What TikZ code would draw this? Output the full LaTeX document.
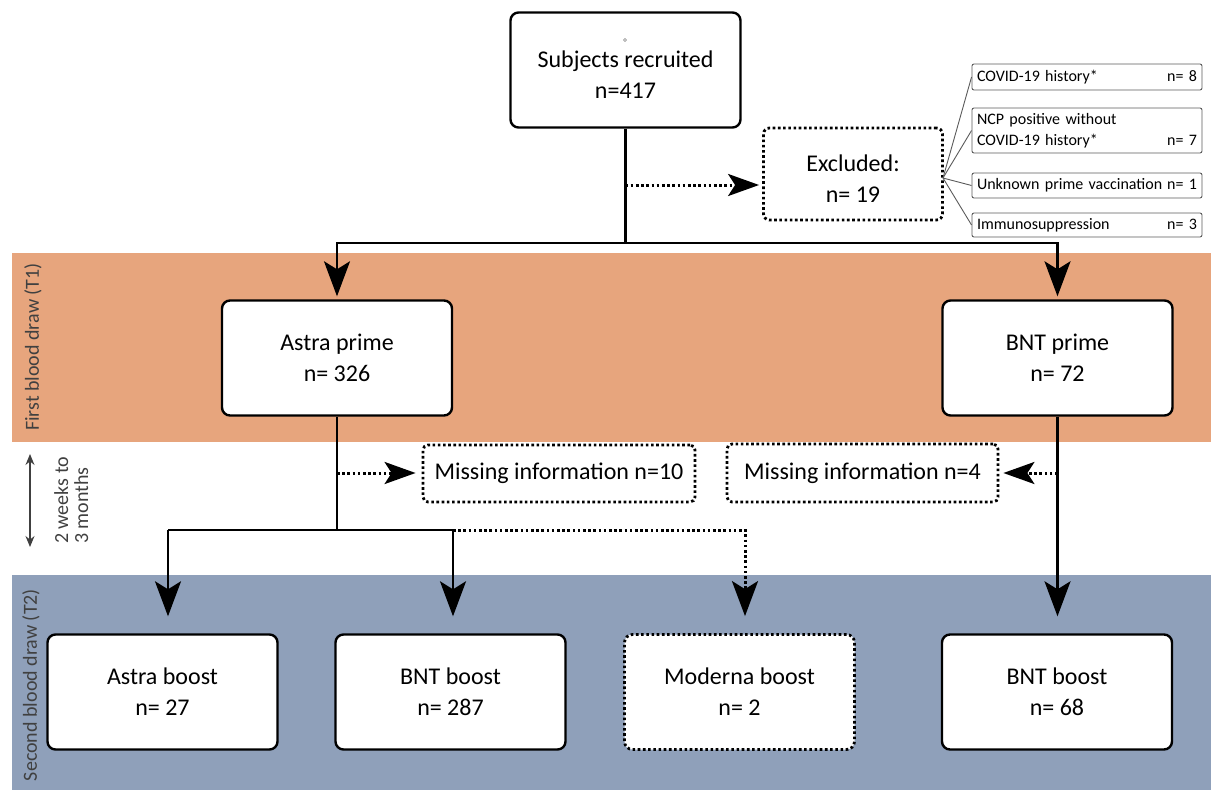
\documentclass[tikz,border=0pt]{standalone}
\usepackage{fontspec}
\setmainfont{Carlito}
\usetikzlibrary{arrows.meta,calc}
\definecolor{bandorange}{RGB}{231,165,125}
\definecolor{bandblue}{RGB}{143,160,186}
\definecolor{labelgray}{RGB}{64,64,64}
\definecolor{thingray}{RGB}{90,90,90}
\begin{document}
\begin{tikzpicture}[x=1pt,y=-1pt,
  box/.style={draw=black,fill=white,line width=2.4pt,rounded corners=8pt,
    minimum width=230pt,minimum height=115pt,inner sep=0pt,align=center,
    font=\fontsize{24}{31}\selectfont},
  dbox/.style={box,line width=2.8pt,dash pattern=on 2.6pt off 2.6pt},
  sbox/.style={draw=thingray,fill=white,line width=0.9pt,rounded corners=2pt,
    inner xsep=5pt,inner ysep=0pt,text width=220pt,align=left,
    font=\fontsize{16}{21}\selectfont},
  conn/.style={line width=2.2pt,draw=black},
  dotc/.style={line width=3pt,draw=black,dash pattern=on 2.6pt off 2.6pt},
  arr/.style={-{Stealth[length=35pt,width=26pt,inset=8pt]}},
  darr/.style={-{Stealth[length=31pt,width=22pt,inset=7pt]}},
  fan/.style={draw=thingray,line width=0.9pt},
  side/.style={rotate=90,text=labelgray,font=\fontsize{20}{22}\selectfont,inner sep=0pt}
]
\useasboundingbox (0,0) rectangle (1211,790);
% bands
\fill[bandorange] (12,253) rectangle (1211,442);
\fill[bandblue] (12,575) rectangle (1211,790);
\node[side] (t1) at (33,347) {First blood draw (T1)};
\node[side] (t2) at (31,685) {Second blood draw (T2)};
\coordinate (da) at (30,454);
\coordinate (db) at (30,547);
\draw[labelgray,line width=1.3pt,{Stealth[length=11pt,width=9pt]}-{Stealth[length=11pt,width=9pt]}] (da) -- (db);
\node[side,anchor=north west,align=left,font=\fontsize{20}{20}\selectfont] (wk) at (54,544) {2 weeks to\\3 months};

% main boxes
\node[box] (sub) at (625.5,70) {\rule{0pt}{25pt}Subjects recruited\\n=417};
\draw[gray,line width=0.5pt] (625,40) circle (1.5pt);
\node[dbox,minimum width=179pt,minimum height=92pt,rounded corners=6pt] (excl) at (853,174) {\rule{0pt}{25pt}Excluded:\\n= 19};

\node[sbox,minimum height=26pt] (c1) at (1087,77) {COVID-19 history*\hfill n= 8};
\node[sbox,minimum height=45pt] (c2) at (1087,130.5) {NCP positive without\\COVID-19 history*\hfill n= 7};
\node[sbox,minimum height=25pt] (c3) at (1087,185.5) {Unknown prime vaccination\hfill n= 1};
\node[sbox,minimum height=24pt] (c4) at (1087,225) {Immunosuppression\hfill n= 3};
\coordinate (fanpt) at (943,178);
\foreach \c in {c1,c2,c3,c4} \draw[fan] (fanpt) -- (\c.west);

\node[box] (astra) at (337,358) {Astra prime\\n= 326};
\node[box] (bntp) at (1057.5,358) {BNT prime\\n= 72};

\node[dbox,minimum width=272pt,minimum height=57pt,rounded corners=5pt] (m10) at (559,473.5) {Missing information n=10};
\node[dbox,minimum width=271pt,minimum height=58pt,rounded corners=5pt] (m4) at (862.5,473) {Missing information n=4};

\node[box] (ab) at (162.5,692) {Astra boost\\n= 27};
\node[box] (bb) at (450.5,692) {BNT boost\\n= 287};
\node[dbox] (mb) at (739.5,692) {Moderna boost\\n= 2};
\node[box] (bb2) at (1057,692) {BNT boost\\n= 68};

% connectors
\coordinate (j1) at (625.5,243);
\draw[conn] (sub.south) -- (j1);
\draw[conn,arr,shorten >=3pt] (j1) -| (astra.north);
\draw[conn,arr,shorten >=3pt] (j1) -| (bntp.north);
\coordinate (d1) at (625.5,185);
\draw[dotc,darr,shorten >=3pt] (d1) -- (d1 -| excl.west);

\coordinate (j2) at (337,530);
\draw[conn] (astra.south) -- (j2);
\coordinate (d2) at (337,473);
\draw[dotc,darr,shorten >=6pt] (d2) -- (d2 -| m10.west);
\coordinate (a1) at (168,530);
\coordinate (a2) at (453,530);
\coordinate (a3) at (745,530);
\draw[conn] (a1) -- (a2);
\draw[conn,arr,shorten >=17pt] (a1) -- (a1 |- ab.north);
\draw[conn,arr,shorten >=17pt] (a2) -- (a2 |- bb.north);
\draw[dotc,arr,shorten >=17pt] (a2) -- (a3) -- (a3 |- mb.north);
\draw[conn,arr,shorten >=17pt] (bntp.south) -- (bntp.south |- bb2.north);
\coordinate (d3) at (1057.5,473);
\draw[dotc,darr,shorten >=4pt] (d3) -- (d3 -| m4.east);
\end{tikzpicture}
\end{document}
